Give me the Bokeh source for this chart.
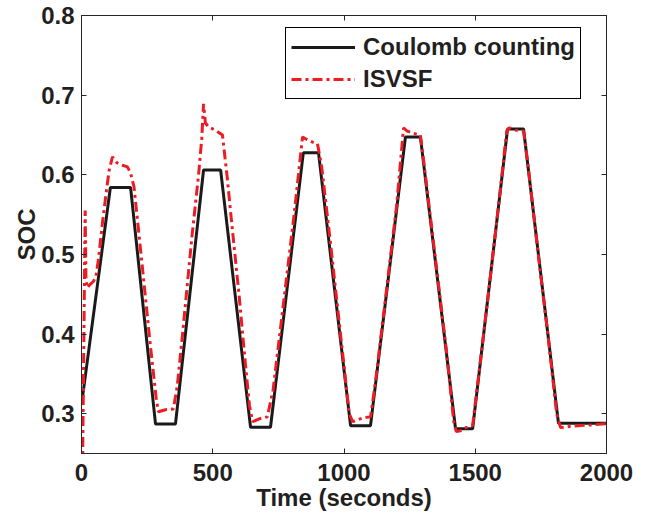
from bokeh.plotting import figure
from bokeh.models import (LinearAxis, FixedTicker, PrintfTickFormatter, Range1d, Legend,
                          LegendItem, CustomLabelingPolicy)
from bokeh.embed import file_html
from bokeh.resources import INLINE

# Coulomb counting (reference) SOC
time_cc = [0, 110, 187, 282, 358, 465, 530, 644, 720, 845, 903, 1025, 1101,
           1234, 1291, 1425, 1490, 1623, 1684, 1817, 2000]
soc_cc = [0.311, 0.584, 0.584, 0.287, 0.287, 0.606, 0.606, 0.283, 0.283, 0.6275,
          0.6275, 0.285, 0.285, 0.6475, 0.6475, 0.281, 0.281, 0.6575, 0.6575, 0.288, 0.288]

# ISVSF estimate
time_isvsf = [0, 14, 17, 22, 32, 45, 55, 65, 80, 95, 105, 118, 135, 156, 175, 187,
              200, 230, 260, 285, 293, 320, 350, 365, 385, 420, 446, 458, 465, 472,
              484, 510, 537, 556, 568, 600, 625, 640, 652, 682, 708, 730, 770, 810,
              842, 860, 880, 899, 915, 950, 990, 1020, 1033, 1075, 1101, 1120, 1160,
              1200, 1227, 1240, 1265, 1291, 1310, 1350, 1390, 1418, 1428, 1450, 1464,
              1490, 1510, 1550, 1590, 1620, 1630, 1655, 1684, 1700, 1740, 1780, 1810,
              1825, 1860, 1901, 1950, 2000]
soc_isvsf = [0.10, 0.555, 0.47, 0.458, 0.462, 0.466, 0.472, 0.495, 0.54, 0.58, 0.605,
             0.6225, 0.615, 0.612, 0.61, 0.602,
             0.585, 0.49, 0.393, 0.318, 0.3025, 0.305, 0.306, 0.335, 0.40, 0.52, 0.60,
             0.645, 0.689, 0.665,
             0.66, 0.656, 0.65, 0.594, 0.553, 0.45, 0.36, 0.31, 0.29, 0.294, 0.296,
             0.33, 0.44, 0.55,
             0.6475, 0.644, 0.641, 0.639, 0.61, 0.51, 0.39, 0.30, 0.29, 0.295, 0.296,
             0.34, 0.45,
             0.56, 0.659, 0.655, 0.652, 0.65, 0.60, 0.49, 0.38, 0.29, 0.2775, 0.279,
             0.2825,
             0.285, 0.34, 0.45, 0.565, 0.655, 0.659, 0.656, 0.655, 0.615, 0.50, 0.39,
             0.30,
             0.2825, 0.284, 0.285, 0.286, 0.2875]

x_ticks = [0, 500, 1000, 1500, 2000]
y_ticks = [0.3, 0.4, 0.5, 0.6, 0.7, 0.8]

FONT = "Liberation Sans"
TXT = "#231f20"
AX = "#262626"

p = figure(width=651, height=519, output_backend="svg", toolbar_location=None,
           x_range=Range1d(0, 2000), y_range=Range1d(0.25, 0.8),
           min_border_left=81, min_border_right=45, min_border_top=15,
           min_border_bottom=66,
           x_axis_label="Time (seconds)", y_axis_label="SOC")
p.grid.visible = False
p.outline_line_color = AX
p.outline_line_width = 1
p.background_fill_color = "white"
p.border_fill_color = "white"

for ax, ticks in ((p.xaxis[0], x_ticks), (p.yaxis[0], y_ticks)):
    ax.ticker = FixedTicker(ticks=ticks)
    ax.major_tick_in = 5
    ax.major_tick_out = 0
    ax.minor_tick_in = 0
    ax.minor_tick_out = 0
    ax.axis_line_color = AX
    ax.major_tick_line_color = AX
    ax.major_label_text_font = FONT
    ax.major_label_text_font_style = "bold"
    ax.major_label_text_font_size = "24px"
    ax.major_label_text_color = TXT
    ax.axis_label_text_font = FONT
    ax.axis_label_text_font_style = "bold"
    ax.axis_label_text_font_size = "24px"
    ax.axis_label_text_color = TXT

p.yaxis[0].formatter = PrintfTickFormatter(format="%.1f")
p.xaxis[0].major_label_standoff = 10
p.xaxis[0].axis_label_standoff = 0
p.yaxis[0].major_label_standoff = 7
p.yaxis[0].axis_label_standoff = -2

no_labels = CustomLabelingPolicy(code="return new Set()")
top_ax = LinearAxis(ticker=FixedTicker(ticks=x_ticks))
right_ax = LinearAxis(ticker=FixedTicker(ticks=y_ticks))
for ax in (top_ax, right_ax):
    ax.major_tick_in = 5
    ax.major_tick_out = 0
    ax.minor_tick_in = 0
    ax.minor_tick_out = 0
    ax.major_label_policy = no_labels
    ax.major_label_standoff = 0
    ax.axis_line_color = AX
    ax.major_tick_line_color = AX
p.add_layout(top_ax, "above")
p.add_layout(right_ax, "right")

r1 = p.line(time_cc, soc_cc, line_color="#1a1a1a", line_width=3)
r2 = p.line(time_isvsf, soc_isvsf, line_color="#ed1c24", line_width=3,
            line_dash="10 4 3 4")

legend = Legend(items=[LegendItem(label="Coulomb counting", renderers=[r1]),
                       LegendItem(label="ISVSF", renderers=[r2])],
                location=(204, 354))
legend.label_text_font = FONT
legend.label_text_font_style = "bold"
legend.label_text_font_size = "24px"
legend.label_text_color = TXT
legend.glyph_width = 64
legend.label_standoff = 8
legend.padding = 5
legend.spacing = 4
legend.margin = 0
legend.border_line_color = "black"
legend.border_line_width = 1
legend.border_line_alpha = 1
legend.background_fill_alpha = 1
p.add_layout(legend)

open("out.html", "w").write(file_html(p, INLINE))
